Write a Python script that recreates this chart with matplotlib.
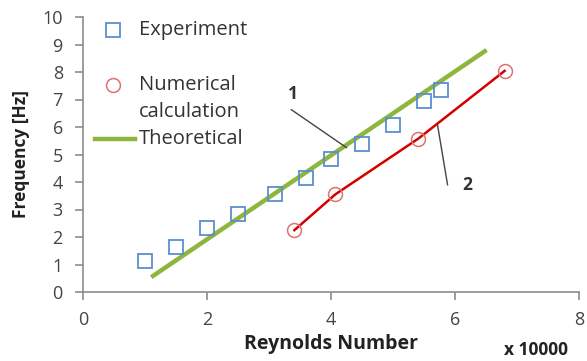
import numpy as np
import matplotlib
matplotlib.use('Agg')
import matplotlib.pyplot as plt
from matplotlib.lines import Line2D

plt.rcParams['font.family'] = ['Open Sans', 'DejaVu Sans']

# Reynolds number (x 10000) and shedding frequency [Hz]
exp_re = [1.0, 1.5, 2.0, 2.5, 3.1, 3.6, 4.0, 4.5, 5.0, 5.5, 5.78]
exp_f = [1.12, 1.63, 2.32, 2.83, 3.55, 4.13, 4.82, 5.4, 6.08, 6.96, 7.36]

num_re = [3.41, 4.07, 5.41, 6.8]
num_f = [2.25, 3.55, 5.58, 8.04]

theo_re = [1.1, 6.51]
theo_f = [0.54, 8.8]

xticks = [0, 2, 4, 6, 8]
yticks = list(range(0, 11))

blue = '#5B8FD0'
red_pt = '#E07070'
green = '#8DB63C'
red_ln = '#D40000'
grey = '#8C8C8C'
txt = '#333333'

fig = plt.figure(figsize=(5.87, 3.61), dpi=100)
ax = fig.add_axes([83/587, 1-292/361, 496/587, 275/361])

ax.plot(theo_re, theo_f, color=green, lw=3.2, solid_capstyle='butt', zorder=2)
ax.plot(num_re, num_f, color=red_ln, lw=1.8, zorder=2)
ax.plot(num_re, num_f, ls='none', marker='o', ms=10, mfc='none', mec=red_pt, mew=1.1, zorder=3)
ax.plot(exp_re, exp_f, ls='none', marker='s', ms=10.5, mfc='none', mec=blue, mew=1.3, zorder=3)

# leader lines for the curve numbers
ax.plot([3.36, 4.25], [6.63, 5.25], color='#444444', lw=1.0)
ax.text(3.38, 7.2, '1', fontsize=12.5, fontweight='bold', color=txt, ha='center', va='center')
ax.plot([5.72, 5.88], [6.05, 3.9], color='#444444', lw=1.0)
ax.text(6.19, 3.9, '2', fontsize=12.5, fontweight='bold', color=txt, ha='center', va='center')

ax.set_xlim(0, 8)
ax.set_ylim(0, 10)
ax.set_xticks(xticks)
ax.set_yticks(yticks)
for s in ['top', 'right']:
    ax.spines[s].set_visible(False)
for s in ['left', 'bottom']:
    ax.spines[s].set_color(grey)
    ax.spines[s].set_linewidth(1.2)
ax.tick_params(colors=grey, labelcolor='#444444', labelsize=13, length=5.5, width=1.2, direction='out')
ax.tick_params(axis='y', pad=9)
ax.tick_params(axis='x', pad=8)

ax.set_xlabel('Reynolds Number', fontsize=14, fontweight='bold', color='#222222', labelpad=4)
ax.set_ylabel('Frequency [Hz]', fontsize=12.5, fontweight='bold', color='#222222', labelpad=9)
fig.text(536/587, 1-350/361, 'x 10000', fontsize=12.5, fontweight='bold', color='#222222',
         ha='center', va='center')

# legend drawn by hand, Excel style
tx = (139-83)/496
def ay(py):
    return (292-py)/275
mx = (113-83)/496
ax.plot([mx], [ay(30)], transform=ax.transAxes, marker='s', ms=10.5, mfc='none',
        mec=blue, mew=1.3, clip_on=False)
ax.text(tx, ay(30), 'Experiment', transform=ax.transAxes, fontsize=14.5, color=txt, va='center')
ax.plot([mx], [ay(85)], transform=ax.transAxes, marker='o', ms=10, mfc='none',
        mec=red_pt, mew=1.1, clip_on=False)
ax.text(tx, ay(85), 'Numerical', transform=ax.transAxes, fontsize=14.5, color=txt, va='center')
ax.text(tx, ay(112), 'calculation', transform=ax.transAxes, fontsize=14.5, color=txt, va='center')
ax.add_line(Line2D([(95-83)/496, (135-83)/496], [ay(139), ay(139)], transform=ax.transAxes,
                   color=green, lw=3.2, clip_on=False))
ax.text(tx, ay(139), 'Theoretical', transform=ax.transAxes, fontsize=14.5, color=txt, va='center')

fig.savefig('out.png', dpi=100)
